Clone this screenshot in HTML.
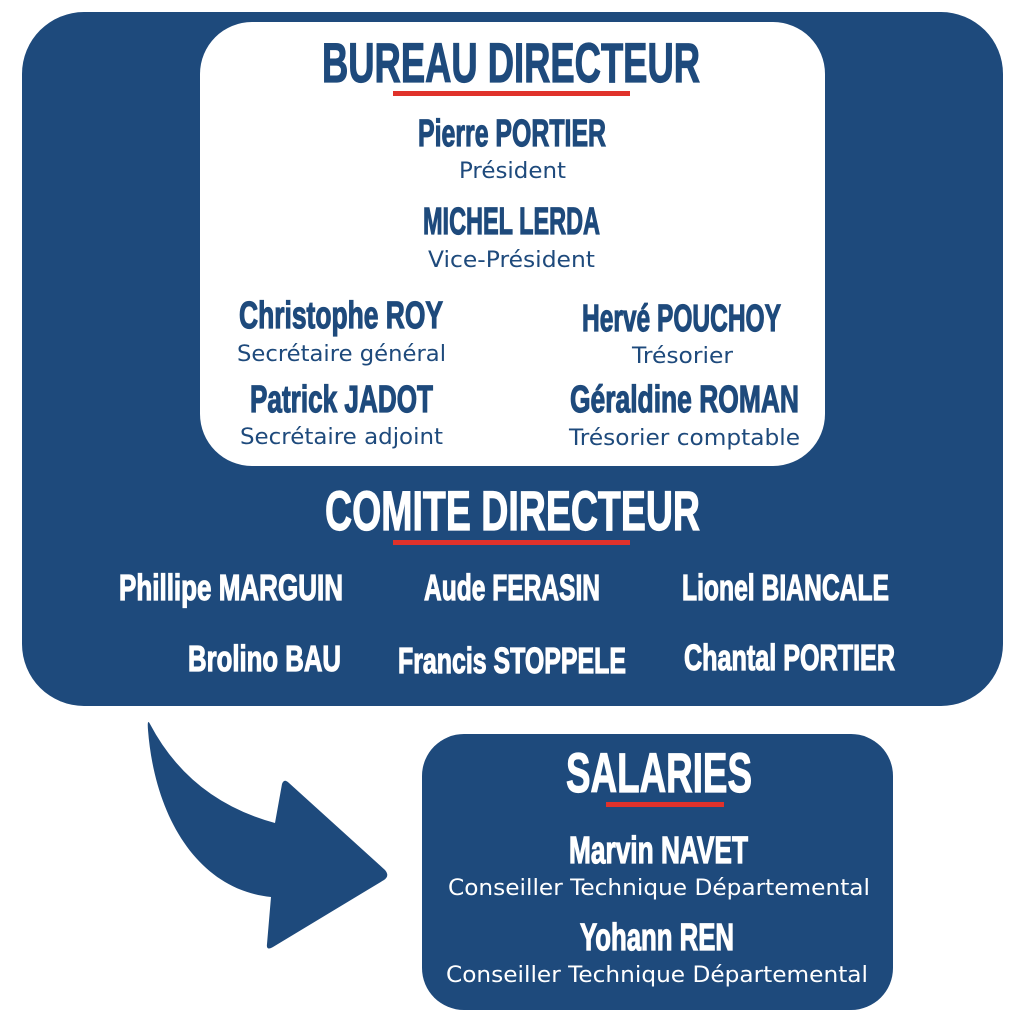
<!DOCTYPE html>
<html><head><meta charset="utf-8"><style>
html,body{margin:0;padding:0;background:#fff}
svg{display:block}
.h{font-family:"Liberation Sans",sans-serif;font-weight:bold}
.r{font-family:"DejaVu Sans","Liberation Sans",sans-serif}
</style></head><body>
<svg width="1024" height="1024" viewBox="0 0 1024 1024" xmlns="http://www.w3.org/2000/svg">
<rect x="22" y="12" width="981" height="694" rx="62" fill="#1e4a7c"/>
<rect x="200" y="22" width="625" height="444" rx="52" fill="#fff"/>
<rect x="422" y="734" width="471" height="276" rx="42" fill="#1e4a7c"/>
<path d="M150,724 Q190,800 275,823 L282,784 Q284,778 289,783 L385,870 Q390,876 384,880 L273,947 Q266,951 267,944 L271,897 C200,890 155,820 148,730 Q147,718 150,724 Z" fill="#1e4a7c"/>
<rect x="393" y="91" width="237" height="5" fill="#e0322b"/>
<rect x="393" y="540" width="237" height="5" fill="#e0322b"/>
<rect x="606" y="802" width="118" height="5" fill="#e0322b"/>
<g class="h" fill="#1e4a7c" stroke="#1e4a7c" stroke-width="1.2">
<text x="322" y="82" font-size="56" textLength="378" lengthAdjust="spacingAndGlyphs">BUREAU DIRECTEUR</text>
<text x="418" y="146" font-size="38" textLength="188" lengthAdjust="spacingAndGlyphs">Pierre PORTIER</text>
<text x="423" y="234" font-size="38" textLength="177" lengthAdjust="spacingAndGlyphs">MICHEL LERDA</text>
<text x="239" y="328" font-size="38" textLength="204" lengthAdjust="spacingAndGlyphs">Christophe ROY</text>
<text x="582" y="331" font-size="38" textLength="199" lengthAdjust="spacingAndGlyphs">Hervé POUCHOY</text>
<text x="250" y="412" font-size="38" textLength="183" lengthAdjust="spacingAndGlyphs">Patrick JADOT</text>
<text x="570" y="412" font-size="38" textLength="229" lengthAdjust="spacingAndGlyphs">Géraldine ROMAN</text>
</g>
<g class="r" fill="#1e4a7c" font-size="22">
<text x="459" y="178" textLength="107" lengthAdjust="spacingAndGlyphs">Président</text>
<text x="428" y="267" textLength="167" lengthAdjust="spacingAndGlyphs">Vice-Président</text>
<text x="237" y="361" textLength="209" lengthAdjust="spacingAndGlyphs">Secrétaire général</text>
<text x="632" y="363" textLength="101" lengthAdjust="spacingAndGlyphs">Trésorier</text>
<text x="240" y="444" textLength="203" lengthAdjust="spacingAndGlyphs">Secrétaire adjoint</text>
<text x="569" y="445" textLength="231" lengthAdjust="spacingAndGlyphs">Trésorier comptable</text>
</g>
<g class="h" fill="#fff" stroke="#fff" stroke-width="1.2">
<text x="325" y="530" font-size="56" textLength="375" lengthAdjust="spacingAndGlyphs">COMITE DIRECTEUR</text>
<text x="119" y="600" font-size="36" textLength="224" lengthAdjust="spacingAndGlyphs">Phillipe MARGUIN</text>
<text x="424" y="600" font-size="36" textLength="176" lengthAdjust="spacingAndGlyphs">Aude FERASIN</text>
<text x="682" y="600" font-size="36" textLength="207" lengthAdjust="spacingAndGlyphs">Lionel BIANCALE</text>
<text x="188" y="671" font-size="36" textLength="153" lengthAdjust="spacingAndGlyphs">Brolino BAU</text>
<text x="398" y="673" font-size="36" textLength="228" lengthAdjust="spacingAndGlyphs">Francis STOPPELE</text>
<text x="684" y="670" font-size="36" textLength="211" lengthAdjust="spacingAndGlyphs">Chantal PORTIER</text>
<text x="566" y="792" font-size="56" textLength="186" lengthAdjust="spacingAndGlyphs">SALARIES</text>
<text x="569" y="863" font-size="38" textLength="179" lengthAdjust="spacingAndGlyphs">Marvin NAVET</text>
<text x="580" y="950" font-size="38" textLength="154" lengthAdjust="spacingAndGlyphs">Yohann REN</text>
</g>
<g class="r" fill="#fff" font-size="22">
<text x="448" y="895" textLength="422" lengthAdjust="spacingAndGlyphs">Conseiller Technique Départemental</text>
<text x="446" y="982" textLength="422" lengthAdjust="spacingAndGlyphs">Conseiller Technique Départemental</text>
</g>
</svg>
</body></html>
